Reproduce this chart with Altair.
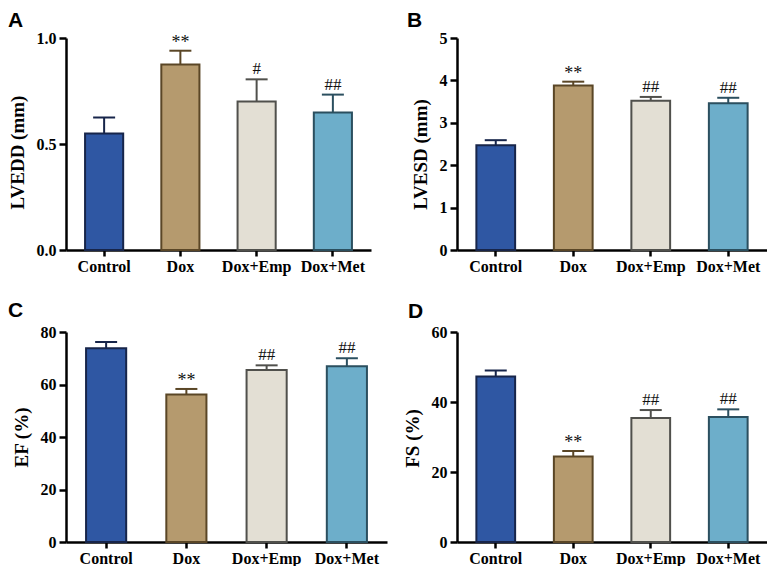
import altair as alt
import pandas as pd

groups = ["Control", "Dox", "Dox+Emp", "Dox+Met"]
fills = ["#2F57A3", "#B59A6E", "#E3DFD4", "#6DAECA"]
strokes = ["#17254A", "#5A4626", "#50504C", "#2B4F5F"]

lvedd = [0.55, 0.875, 0.70, 0.648]
lvedd_err = [0.075, 0.065, 0.105, 0.085]
lvedd_ann = ["", "**", "#", "##"]

lvesd = [2.47, 3.88, 3.52, 3.46]
lvesd_err = [0.12, 0.09, 0.09, 0.13]
lvesd_ann = ["", "**", "##", "##"]

ef = [73.8, 56.2, 65.5, 67.0]
ef_err = [2.4, 2.1, 1.8, 3.0]
ef_ann = ["", "**", "##", "##"]

fs = [47.3, 24.4, 35.4, 35.7]
fs_err = [1.7, 1.6, 2.3, 2.2]
fs_ann = ["", "**", "##", "##"]

SERIF = "Liberation Serif"


def panel(letter, title, vals, errs, anns, ymax, tick_vals, fmt, width, height,
          letter_dx, letter_dy, title_y):
    df = pd.DataFrame({
        "group": groups,
        "value": vals,
        "top": [v + e for v, e in zip(vals, errs)],
        "ann": anns,
    })
    x = alt.X("group:N", sort=groups, title=None,
              scale=alt.Scale(paddingInner=0.5, paddingOuter=0.25),
              axis=alt.Axis(labelAngle=0, labelFont=SERIF, labelFontWeight="bold",
                            labelFontSize=16, labelColor="black", labelPadding=2,
                            domainColor="black", domainWidth=2.5, tickColor="black",
                            tickWidth=2.5, tickSize=6, grid=False))
    y = alt.Y("value:Q", title=title,
              scale=alt.Scale(domain=[0, ymax], nice=False, zero=True),
              axis=alt.Axis(values=tick_vals, format=fmt, labelFont=SERIF,
                            labelFontWeight="bold", labelFontSize=16, labelColor="black",
                            labelPadding=3, titleFont=SERIF, titleFontWeight="bold",
                            titleFontSize=19, titleColor="black", titlePadding=9,
                            titleY=title_y,
                            domainColor="black", domainWidth=2.5, tickColor="black",
                            tickWidth=2.5, tickSize=7, grid=False))
    fill = alt.Fill("group:N", scale=alt.Scale(domain=groups, range=fills), legend=None)
    stroke = alt.Stroke("group:N", scale=alt.Scale(domain=groups, range=strokes), legend=None)
    capcol = alt.Color("group:N", scale=alt.Scale(domain=groups, range=strokes), legend=None)

    base = alt.Chart(df)
    bars = base.mark_bar(strokeWidth=2, opacity=1).encode(x=x, y=y, fill=fill, stroke=stroke)
    err_line = base.mark_rule(strokeWidth=2).encode(
        x=x, y=alt.Y("value:Q"), y2="top:Q", stroke=stroke)
    cap = base.mark_tick(thickness=2, size=22, orient="horizontal", opacity=1).encode(
        x=x, y=alt.Y("top:Q"), color=capcol)
    star = base.transform_filter(alt.datum.ann == "**").mark_text(
        font=SERIF, fontSize=18, color="#111111", baseline="alphabetic", dy=-3).encode(
        x=x, y=alt.Y("top:Q"), text="ann:N")
    hashes = base.transform_filter(alt.datum.ann != "**").transform_filter(alt.datum.ann != "").mark_text(
        font=SERIF, fontSize=17, color="#111111", baseline="alphabetic", dy=-5).encode(
        x=x, y=alt.Y("top:Q"), text="ann:N")
    lab = alt.Chart(pd.DataFrame({"t": [letter]})).mark_text(
        font="Liberation Sans", fontWeight="bold", fontSize=21, color="black",
        align="left", baseline="alphabetic").encode(
        x=alt.value(letter_dx), y=alt.value(letter_dy), text="t:N")
    return alt.layer(bars, err_line, cap, star, hashes, lab).properties(width=width, height=height)


pA = panel("A", "LVEDD (mm)", lvedd, lvedd_err, lvedd_ann, 1.0, [0, 0.5, 1.0], ".1f",
           305, 212, -58, -11, 114)
pB = panel("B", "LVESD (mm)", lvesd, lvesd_err, lvesd_ann, 5, [0, 1, 2, 3, 4, 5], "d",
           310, 212, -50, -11, 116)
pC = panel("C", "EF (%)", ef, ef_err, ef_ann, 80, [0, 20, 40, 60, 80], "d",
           321, 210, -58, -15, 105)
pD = panel("D", "FS (%)", fs, fs_err, fs_ann, 60, [0, 20, 40, 60], "d",
           310, 210, -49, -14, 106)

chart = alt.concat(
    pA, pB, pC, pD, columns=2, bounds="flush",
    spacing={"row": 82, "column": 70},
).properties(padding={"left": 0, "top": 2, "right": 0, "bottom": 0}).configure_view(stroke=None)

chart.save("out.html", embed_options={"renderer": "svg", "actions": False})
